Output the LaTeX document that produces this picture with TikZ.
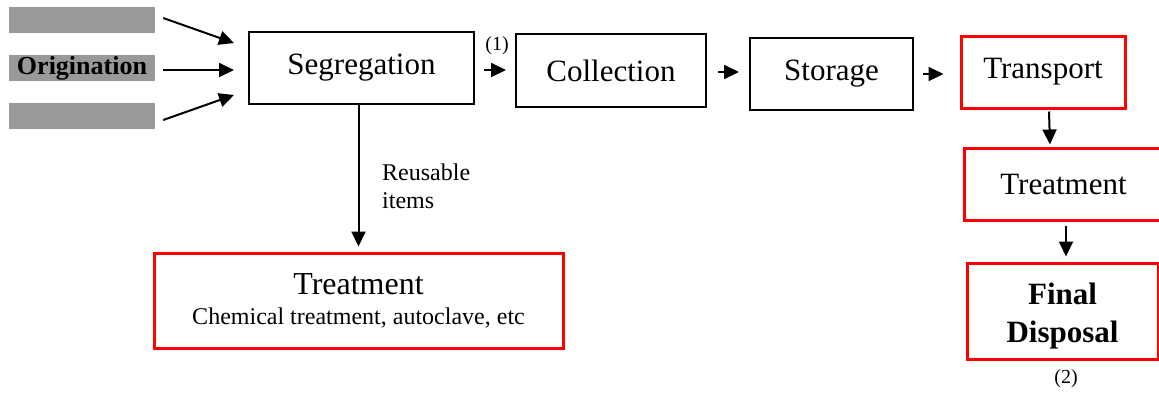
\documentclass[tikz,border=0pt]{standalone}
\usepackage{fontspec}
\setmainfont{Liberation Serif}
\usetikzlibrary{arrows.meta,calc}
\definecolor{bargray}{HTML}{999999}
\definecolor{boxred}{HTML}{FF0000}
\tikzset{
  blackbox/.style={draw=black,line width=2pt,rectangle,inner sep=0pt,align=center},
  redbox/.style={draw=boxred,line width=3pt,rectangle,inner sep=0pt,align=center},
  bar/.style={fill=bargray,rectangle,inner sep=0pt,minimum width=146pt,minimum height=26pt},
  arr/.style={line width=2pt,-{Triangle[length=15pt,width=14pt]}},
  big/.style={font=\fontsize{31}{36}\selectfont},
}
\begin{document}
\begin{tikzpicture}[x=1pt,y=-1pt]
\useasboundingbox (0,0) rectangle (1159,392);
% origination bars
\node[bar] (o1) at (82,20) {};
\node[bar,font=\fontsize{26}{28}\selectfont\bfseries] (o2) at (82,68) {Origination};
\node[bar] (o3) at (82,116) {};
% main chain
\node[blackbox,big,minimum width=225pt,minimum height=72pt] (seg) at (361.5,68) {Segregation};
\node[blackbox,big,minimum width=190pt,minimum height=73pt] (col) at (611,70.5) {Collection};
\node[blackbox,big,minimum width=163pt,minimum height=72pt] (sto) at (831.5,74) {Storage};
\node[redbox,big,minimum width=164pt,minimum height=72pt] (tra) at (1043,72) {Transport};
\node[redbox,big,minimum width=210pt,minimum height=72pt,anchor=west] (trr) at (963,184) {\hspace*{-12pt}Treatment};
\node[redbox,minimum width=191pt,minimum height=96pt,font=\fontsize{31}{38}\selectfont\bfseries] (fin) at (1062.5,311) {\\[-6pt]Final\\Disposal};
\node[redbox,minimum width=409pt,minimum height=95pt,font=\fontsize{32}{30}\selectfont] (trb) at (358.5,300.5)
  {Treatment\\{\fontsize{24}{26}\selectfont Chemical treatment, autoclave, etc}};
% labels
\node[font=\fontsize{20}{22}\selectfont] (l1) at (497,46) {(1)};
\node[font=\fontsize{20}{22}\selectfont] (l2) at (1066,379) {(2)};
\node[font=\fontsize{24}{28}\selectfont,align=left,anchor=north west,inner sep=0pt] (reu) at (382,164) {Reusable\\items};
% arrows
\draw[arr] ($(o1.east)+(8,-2)$) -- ($(seg.west)+(-14,-25)$);
\draw[arr] ($(o2.east)+(8,2)$) -- ($(seg.west)+(-14,2)$);
\draw[arr] ($(o3.east)+(8,4)$) -- ($(seg.west)+(-14,27)$);
\draw[arr] ($(seg.east)+(9,2)$) -- ($(col.west)+(-9,-0.5)$);
\draw[arr] ($(col.east)+(11,1.5)$) -- ($(sto.west)+(-10,-2)$);
\draw[arr] ($(sto.east)+(9,0)$) -- ($(tra.west)+(-16,2)$);
\draw[arr] ($(tra.south)+(6,2)$) -- ($(trr.north west)+(87,-2)$);
\draw[arr] ($(trr.south west)+(103,4)$) -- ($(fin.north)+(3.5,-5)$);
\draw[arr] (seg.south -| trb.north) -- ($(trb.north)+(0,-5)$);
\end{tikzpicture}
\end{document}
